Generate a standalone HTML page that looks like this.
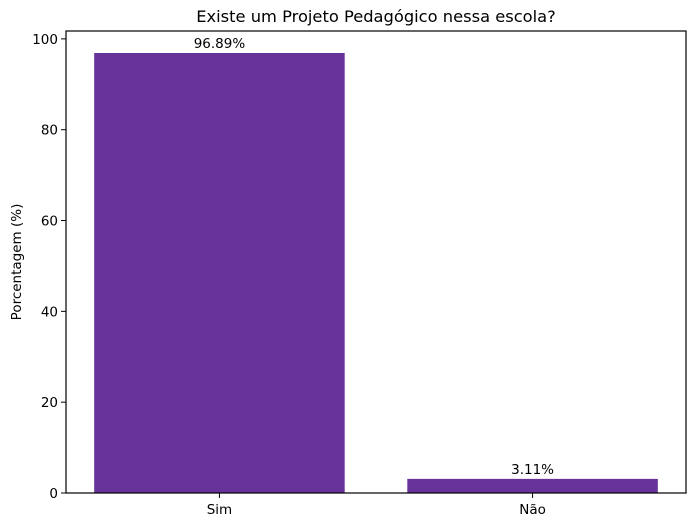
<!DOCTYPE html>
<html><head><meta charset="utf-8"><style>
body{margin:0;background:#fff;font-family:"Liberation Sans","DejaVu Sans",sans-serif;}
svg text{font-family:"DejaVu Sans","Liberation Sans",sans-serif;}
</style></head><body>
<svg id="chart" width="695" height="527" xmlns="http://www.w3.org/2000/svg">
<text x="376" y="22" font-size="16.3" text-anchor="middle">Existe um Projeto Pedagógico nessa escola?</text>
<text transform="translate(21,262) rotate(-90)" font-size="13.5" text-anchor="middle">Porcentagem (%)</text>
<g id="bars"></g>
<g id="ticks"></g>
<rect x="66" y="31" width="620" height="462" fill="none" stroke="#000" stroke-width="1.2"/>
</svg>
<script>
const categories = ["Sim", "Não"];
const values = [96.89, 3.11];
const labels = ["96.89%", "3.11%"];
const yTicks = [0, 20, 40, 60, 80, 100];
const NS = "http://www.w3.org/2000/svg";
const L = 66, R = 686, T = 31, B = 493;
const xMin = -0.49, xMax = categories.length - 1 + 0.49;
const yMax = Math.max(...values) * 1.05;
const xs = v => L + (v - xMin) / (xMax - xMin) * (R - L);
const ys = v => B - v / yMax * (B - T);
const bars = document.getElementById('bars');
const ticks = document.getElementById('ticks');
function mk(tag, attrs, parent) { const e = document.createElementNS(NS, tag); for (const k in attrs) e.setAttribute(k, attrs[k]); parent.appendChild(e); return e; }
categories.forEach((c, i) => {
  const x0 = xs(i - 0.4), x1 = xs(i + 0.4);
  const r = mk('rect', {x: x0, y: ys(values[i]), width: x1 - x0, height: B - ys(values[i]), fill: '#663399'}, bars);
  
  
  const t = mk('text', {x: xs(i), y: ys(values[i]) - 5, 'font-size': 13.5, 'text-anchor': 'middle'}, bars);
  t.textContent = labels[i];
  
  
  mk('line', {x1: xs(i), x2: xs(i), y1: B, y2: B + 5, stroke: '#000'}, ticks);
  const xl = mk('text', {x: xs(i), y: B + 21, 'font-size': 13.5, 'text-anchor': 'middle'}, ticks);
  xl.textContent = c;
  
  
});
yTicks.forEach(v => {
  const y = ys(v);
  mk('line', {x1: L - 5, x2: L, y1: y, y2: y, stroke: '#000'}, ticks);
  const t = mk('text', {x: L - 8, y: y + 5, 'font-size': 13.5, 'text-anchor': 'end'}, ticks);
  t.textContent = v;
  
  
});
</script>
</body></html>
